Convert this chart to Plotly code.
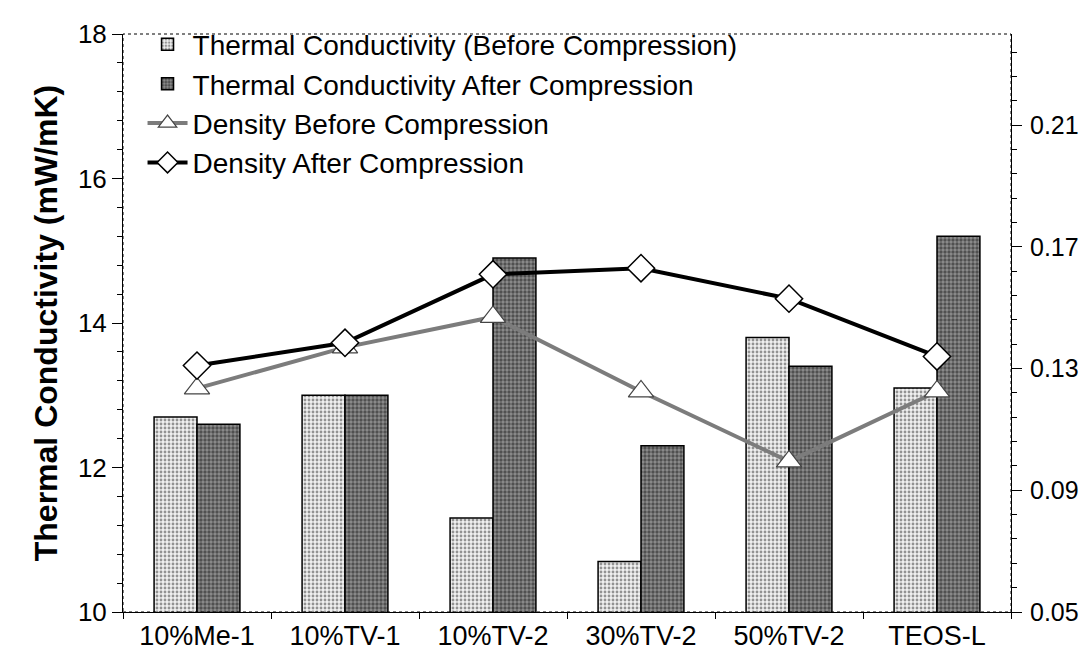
import plotly.graph_objects as go

# sample names
samples = ["10%Me-1", "10%TV-1", "10%TV-2", "30%TV-2", "50%TV-2", "TEOS-L"]

# thermal conductivity, mW/mK (left axis)
tc_before = [12.7, 13.0, 11.3, 10.7, 13.8, 13.1]
tc_after = [12.6, 13.0, 14.9, 12.3, 13.4, 15.2]

# density (right axis)
dens_before = [0.1235, 0.137, 0.147, 0.1225, 0.0995, 0.1225]
dens_after = [0.131, 0.1385, 0.161, 0.163, 0.153, 0.134]

FONT = "Arial, Liberation Sans, sans-serif"

fig = go.Figure()

fig.add_trace(go.Bar(
    x=samples, y=tc_before,
    name="Thermal Conductivity (Before Compression)",
    marker=dict(color="#d0d0d0",
                line=dict(color="black", width=1.5),
                pattern=dict(shape=".", bgcolor="#f0f0f0", fgcolor="#333333",
                             size=4, solidity=0.4)),
))
fig.add_trace(go.Bar(
    x=samples, y=tc_after,
    name="Thermal Conductivity After Compression",
    marker=dict(color="#707070",
                line=dict(color="black", width=1.5),
                pattern=dict(shape=".", bgcolor="#8e8e8e", fgcolor="#111111",
                             size=4, solidity=0.55)),
))

fig.add_trace(go.Scatter(
    x=samples, y=dens_before, yaxis="y2",
    name="Density Before Compression",
    mode="lines+markers",
    line=dict(color="#7c7c7c", width=4),
    marker=dict(symbol="triangle-up", size=22, color="white",
                line=dict(color="#444444", width=1.2)),
))
fig.add_trace(go.Scatter(
    x=samples, y=dens_after, yaxis="y2",
    name="Density After Compression",
    mode="lines+markers",
    line=dict(color="black", width=4),
    marker=dict(symbol="diamond", size=21, color="white",
                line=dict(color="black", width=1.5)),
))

# dotted plot frame
fig.add_shape(type="rect", xref="paper", yref="paper", x0=0, y0=0, x1=1, y1=1,
              line=dict(color="black", width=1, dash="dot"), layer="above")

fig.update_layout(
    width=1092, height=666,
    margin=dict(l=115, r=89, t=22, b=62),
    paper_bgcolor="white", plot_bgcolor="white",
    font=dict(family=FONT, size=26, color="black"),
    barmode="group", bargap=0.42, bargroupgap=0,
    showlegend=True,
    legend=dict(x=0.022, y=1.025, xanchor="left", yanchor="top",
                bgcolor="rgba(0,0,0,0)", font=dict(size=28),
                tracegroupgap=0, itemwidth=40),
    xaxis=dict(type="category", showgrid=False, showline=True,
               linecolor="black", linewidth=1,
               ticks="outside", tickson="boundaries", ticklen=6,
               tickcolor="black", tickfont=dict(size=27)),
    yaxis=dict(range=[10, 18], dtick=2, showgrid=False, zeroline=False,
               showline=True, linecolor="black", linewidth=1,
               ticks="outside", ticklen=10, tickcolor="black",
               minor=dict(dtick=0.4, ticks="outside", ticklen=5, tickcolor="black"),
               tickfont=dict(size=26),
               title=dict(text="<b>Thermal Conductivity (mW/mK)</b>",
                          font=dict(size=32), standoff=10)),
    yaxis2=dict(range=[0.05, 0.24], tickvals=[0.05, 0.09, 0.13, 0.17, 0.21],
                ticktext=["0.05", "0.09", "0.13", "0.17", "0.21"],
                overlaying="y", side="right", showgrid=False, zeroline=False,
                showline=True, linecolor="black", linewidth=1,
                ticks="outside", ticklen=10, tickcolor="black",
                ticklabelstandoff=3,
                minor=dict(dtick=0.008, tick0=0.05, ticks="outside", ticklen=5,
                           tickcolor="black"),
                tickfont=dict(size=25)),
)

fig.write_html("out.html")
